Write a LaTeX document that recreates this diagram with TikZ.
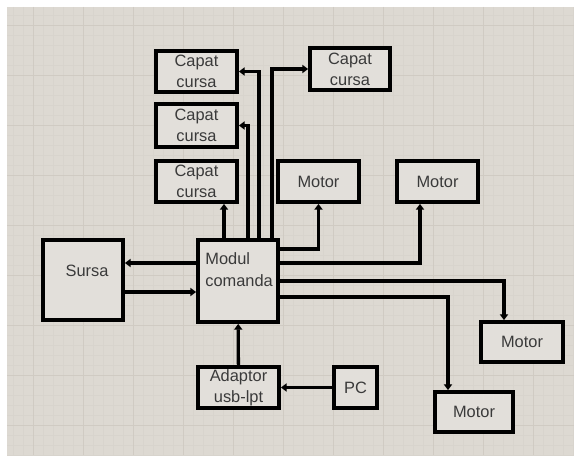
\documentclass[tikz,border=0pt]{standalone}
\usepackage{fontspec}
\setmainfont{Liberation Sans}
\usetikzlibrary{arrows.meta,positioning,calc}
\definecolor{paper}{HTML}{DDD9D2}
\definecolor{boxfill}{HTML}{E2DFDA}
\definecolor{gridminor}{HTML}{D8D4CD}
\definecolor{gridmajor}{HTML}{D0CBC3}
\definecolor{ink}{HTML}{3A3A3A}
\def\px{0.03cm}

\begin{document}
\begin{tikzpicture}[x=0.03cm, y=-0.03cm,
  box/.style={rectangle, draw=black, line width=3.2pt, fill=boxfill, inner sep=0pt, align=center,
    text=ink, font=\fontsize{14}{18}\selectfont},
  lbl/.style={inner sep=0pt, text=ink, font=\fontsize{14}{19}\selectfont},
  arr/.style={-{Triangle[length=5pt,width=7pt]}, line width=2.8pt, black}
]
  % page and grid
  \useasboundingbox (0,0) rectangle (576,457);
  \fill[white] (0,0) rectangle (576,457);
  \fill[paper] (7,7) rectangle (574,455);
  \foreach \gx in {13,23,...,573} \draw[gridminor, line width=0.4pt] (\gx,7) -- (\gx,455);
  \foreach \gy in {15,25,...,455} \draw[gridminor, line width=0.4pt] (7,\gy) -- (574,\gy);
  \foreach \gx in {33,83,...,573} \draw[gridmajor, line width=0.8pt] (\gx,7) -- (\gx,455);
  \foreach \gy in {25,75,...,425} \draw[gridmajor, line width=0.8pt] (7,\gy) -- (574,\gy);

  % blocks
  \node[box, minimum width=81*\px, minimum height=41*\px] (cap1) at (196.5,71.5) {Capat\\cursa};
  \node[box, minimum width=81*\px, minimum height=43*\px] (cap2) at (196.5,125.5) {Capat\\cursa};
  \node[box, minimum width=81*\px, minimum height=41*\px] (cap3) at (196.5,181.5) {Capat\\cursa};
  \node[box, minimum width=80*\px, minimum height=42*\px] (capr) at (350,69) {Capat\\cursa};
  \node[box, minimum width=81*\px, minimum height=41*\px] (mot1) at (318.5,181.5) {Motor};
  \node[box, minimum width=81*\px, minimum height=41*\px] (mot2) at (437.5,181.5) {Motor};
  \node[box, minimum width=80*\px, minimum height=80*\px,
    label={[lbl, xshift=4*\px, yshift=9*\px]center:Sursa}] (sursa) at (83,280) {};
  \node[box, minimum width=80*\px, minimum height=82*\px,
    label={[lbl, anchor=north west, align=left, xshift=9*\px, yshift=-14*\px]north west:{Modul\\comanda}}] (modul) at (238,281) {};
  \node[box, minimum width=82*\px, minimum height=40*\px] (mot3) at (522,342) {Motor};
  \node[box, minimum width=78*\px, minimum height=40*\px] (mot4) at (474,412) {Motor};
  \node[box, minimum width=81*\px, minimum height=41*\px] (adapt) at (238.5,387.5) {Adaptor\\usb-lpt};
  \node[box, minimum width=43*\px, minimum height=41*\px] (pc) at (355.5,387.5) {PC};

  % tap points
  \coordinate (t1) at (224,0);
  \coordinate (t2) at (248,125.5);
  \coordinate (t3) at (259,71.5);
  \coordinate (t4) at (272,69);
  \coordinate (r1) at (318.5,249);
  \coordinate (r2) at (420,263);
  \coordinate (r3) at (504,281);
  \coordinate (r4) at (448,297);
  \coordinate (s1) at (0,263);
  \coordinate (s2) at (0,292);

  % connections
  \draw[arr] (modul.north -| t1) -- (cap3.south -| t1);
  \draw[arr] (modul.north -| t2) |- (cap2.east);
  \draw[arr] (modul.north -| t3) |- (cap1.east);
  \draw[arr] (modul.north -| t4) |- (capr.west);
  \draw[arr] (modul.east |- r1) -| (mot1.south);
  \draw[arr] (modul.east |- r2) -| (mot2.south -| r2);
  \draw[arr] (modul.east |- r3) -| (mot3.north -| r3);
  \draw[arr] (modul.east |- r4) -| (mot4.north -| r4);
  \draw[arr] (modul.west |- s1) -- (sursa.east |- s1);
  \draw[arr] (sursa.east |- s2) -- (modul.west |- s2);
  \draw[arr] (adapt) -- (modul);
  \draw[arr] (pc) -- (adapt);
\end{tikzpicture}
\end{document}
